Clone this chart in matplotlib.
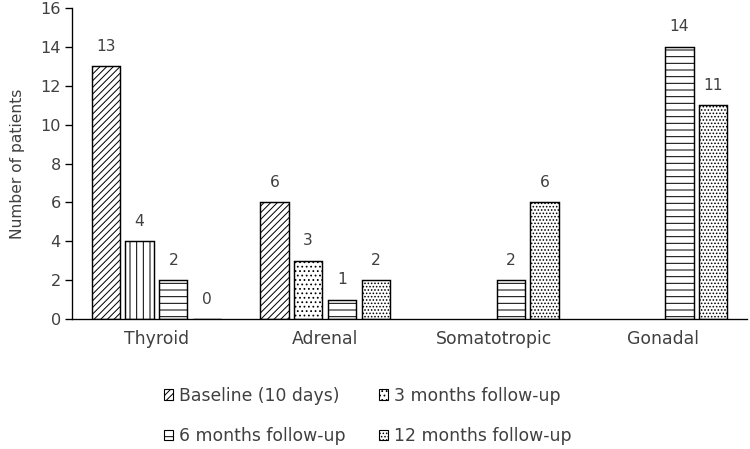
import numpy as np
import matplotlib
matplotlib.use("Agg")
import matplotlib.pyplot as plt
from matplotlib.patches import Patch

categories = ["Thyroid", "Adrenal", "Somatotropic", "Gonadal"]
series_names = ["Baseline (10 days)", "3 months follow-up", "6 months follow-up", "12 months follow-up"]
baseline = [13, 6, np.nan, np.nan]
m3 = [4, 3, np.nan, np.nan]
m6 = [2, 1, 2, 14]
m12 = [0, 2, 6, 11]
yticks = [0, 2, 4, 6, 8, 10, 12, 14, 16]

DPI = 80
plt.rcParams['hatch.linewidth'] = 0.9
fig = plt.figure(figsize=(750 / DPI, 449 / DPI), dpi=DPI)
ax = fig.add_axes([0.096, 0.2895, 0.9, 0.6927])

txt = "#404040"
hatches = ["////", "...", "--", "...."]
offsets = [-0.3, -0.1, 0.1, 0.3]
width = 0.167
x = np.arange(len(categories))
bar_containers = []
for vals, h, off, name in zip([baseline, m3, m6, m12], hatches, offsets, series_names):
    bars = ax.bar(x + off, vals, width, facecolor="white", edgecolor="black",
                  linewidth=1.3, hatch=h, label=name)
    bar_containers.append(bars)
    for xi, v in zip(x, vals):
        if not np.isnan(v):
            ax.annotate(f"{int(v)}", (xi + off, v), xytext=(0, 18), textcoords="offset points",
                        ha="center", va="center", fontsize=14, color=txt)

# Thyroid 3-month bar drawn with vertical lines in the original
bar_containers[1].patches[0].set_hatch("||")

ax.set_xlim(-0.5, 3.5)
ax.set_ylim(0, 16)
ax.set_yticks(yticks)
ax.set_xticks(x)
ax.set_xticklabels(categories, fontsize=15.5, color=txt)
ax.tick_params(axis="x", length=0, pad=10)
ax.tick_params(axis="y", length=6, width=1.2, labelsize=14.5, labelcolor=txt, pad=4)
for s in ["top", "right"]:
    ax.spines[s].set_visible(False)
ax.spines["left"].set_linewidth(1.2)
ax.spines["bottom"].set_linewidth(1.2)
ax.set_ylabel("Number of patients", fontsize=14, color=txt, labelpad=14)

proxies = [Patch(facecolor="white", edgecolor="black", hatch=h, linewidth=1.0) for h in hatches]
order = [0, 2, 1, 3]
leg = fig.legend([proxies[i] for i in order], [series_names[i] for i in order],
                 ncol=2, loc="upper left", bbox_to_anchor=(150 / 750, 1 - 373 / 449),
                 frameon=False, fontsize=15.5, handlelength=0.55, handleheight=0.55,
                 handletextpad=0.35, labelspacing=1.3, columnspacing=1.9, borderpad=0.3,
                 labelcolor=txt)

fig.savefig("out.png", dpi=DPI)
